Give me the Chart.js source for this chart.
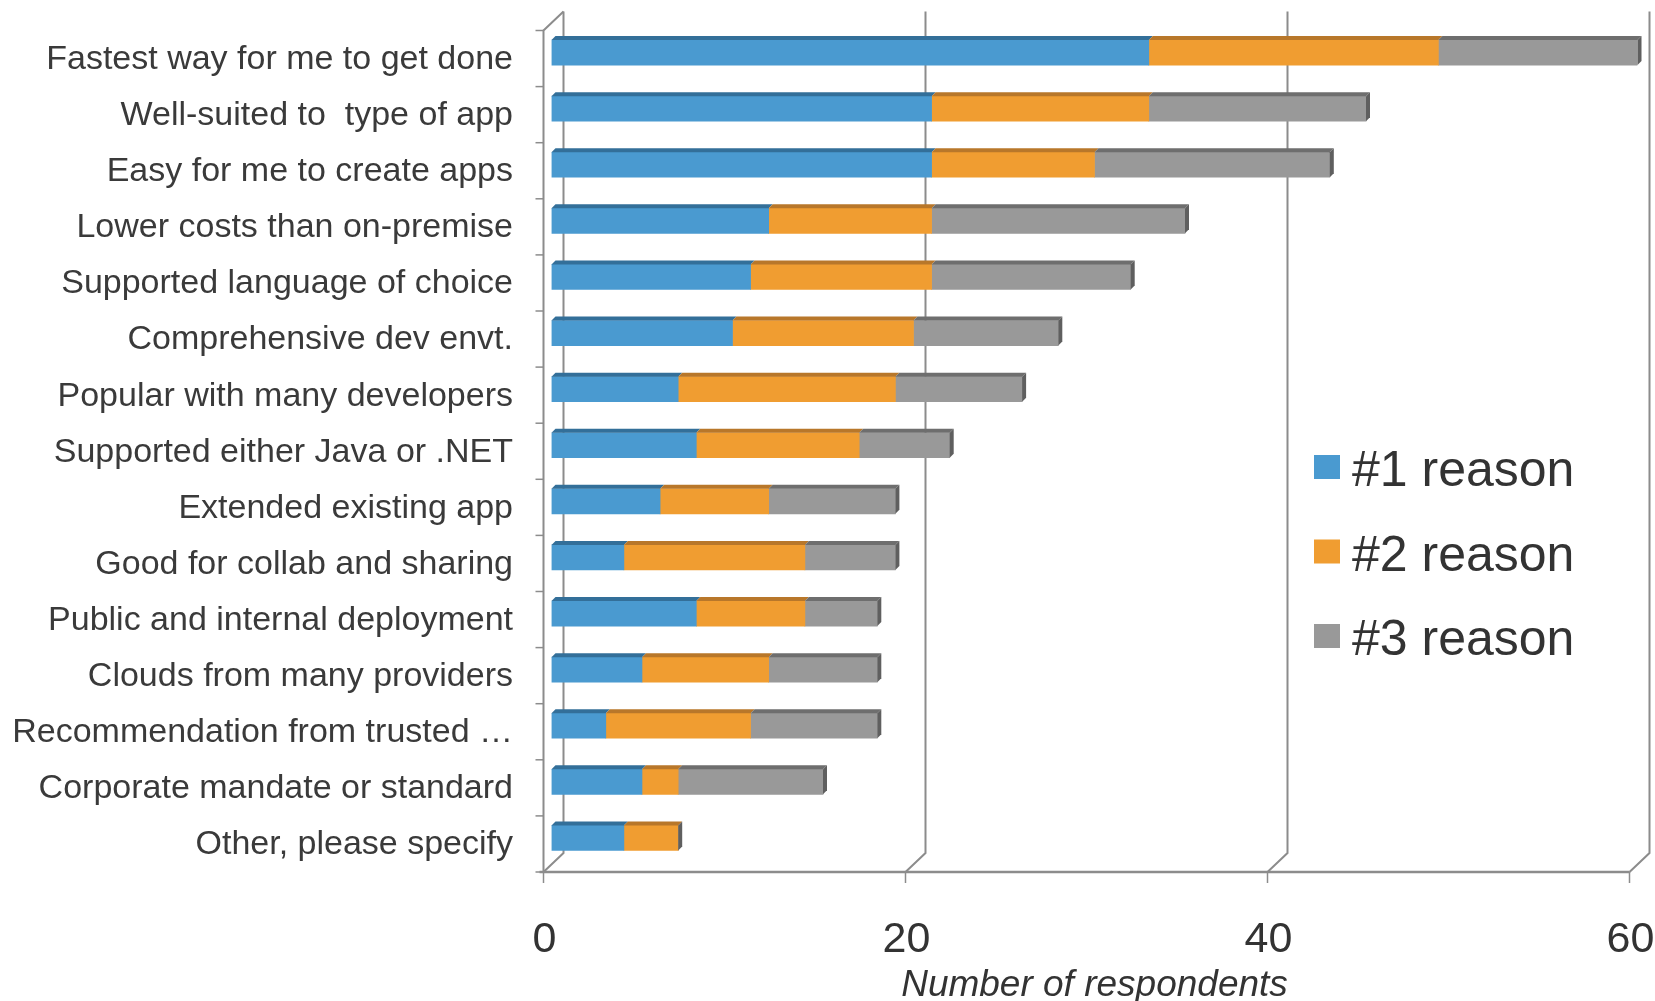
<!DOCTYPE html>
<html>
<head>
<meta charset="utf-8">
<title>Reasons for choosing a platform</title>
<script src="https://cdn.jsdelivr.net/npm/chart.js@4.4.1/dist/chart.umd.min.js"></script>
<style>
    html, body { margin: 0; padding: 0; background: #ffffff; }
    #wrap { position: relative; width: 1655px; height: 1001px; }
</style>
</head>
<body>
<div id="wrap"><canvas id="reasonsChart"></canvas></div>
<script>
(function() {
    'use strict';

    // Survey answers, top to bottom
    const categories = [
        'Fastest way for me to get done',
        'Well-suited to  type of app',
        'Easy for me to create apps',
        'Lower costs than on-premise',
        'Supported language of choice',
        'Comprehensive dev envt.',
        'Popular with many developers',
        'Supported either Java or .NET',
        'Extended existing app',
        'Good for collab and sharing',
        'Public and internal deployment',
        'Clouds from many providers',
        'Recommendation from trusted …',
        'Corporate mandate or standard',
        'Other, please specify'
    ];

    const reason1 = [33, 21, 21, 12, 11, 10, 7, 8, 6, 4, 8, 5, 3, 5, 4];
    const reason2 = [16, 12, 9, 9, 10, 10, 12, 9, 6, 10, 6, 7, 8, 2, 3];
    const reason3 = [11, 12, 13, 14, 11, 8, 7, 5, 7, 5, 4, 6, 7, 8, 0];

    const seriesNames = ['#1 reason', '#2 reason', '#3 reason'];
    const xTicks = [0, 20, 40, 60];

    const FACE = ['#4a9ad0', '#f09d31', '#999999'];
    const TOP = ['#336f99', '#b8772a', '#6e6e6e'];
    const CAP = '#5f5f5f';
    const FRAME = '#8c8c8c';
    const FONT = '"Liberation Sans", Arial, Helvetica, sans-serif';

    // depth offsets of the fake 3D box, relative to the plane of the bars
    const FRONT = { dx: -8, dy: 6 };
    const BACK = { dx: 12, dy: -13 };
    const BAR_DEPTH = 4;

    /**
     * Walls, floor and gridlines drawn before the bars
     */
    const frame3d = {
        id: 'frame3d',
        beforeDatasetsDraw(chart) {
            const ctx = chart.ctx;
            const x = chart.scales.x;
            const area = chart.chartArea;
            const backTop = area.top + BACK.dy;
            const backBottom = area.bottom + BACK.dy;
            const frontBottom = area.bottom + FRONT.dy;

            ctx.save();
            ctx.strokeStyle = FRAME;
            ctx.lineWidth = 2;

            // back wall gridlines and floor diagonals
            xTicks.forEach(v => {
                const px = x.getPixelForValue(v);
                ctx.beginPath();
                ctx.moveTo(px + BACK.dx, backTop);
                ctx.lineTo(px + BACK.dx, backBottom);
                ctx.lineTo(px + FRONT.dx, frontBottom);
                ctx.stroke();
            });

            // left wall, front edge
            const x0 = x.getPixelForValue(0);
            ctx.beginPath();
            ctx.moveTo(x0 + BACK.dx, backTop);
            ctx.lineTo(x0 + FRONT.dx, area.top + FRONT.dy);
            ctx.lineTo(x0 + FRONT.dx, frontBottom);
            ctx.stroke();

            // category tick marks on the left wall
            ctx.lineWidth = 1.5;
            for (let i = 0; i <= categories.length; i++) {
                const py = area.top + i * (area.bottom - area.top) / categories.length + FRONT.dy;
                ctx.beginPath();
                ctx.moveTo(x0 + FRONT.dx - 8, py);
                ctx.lineTo(x0 + FRONT.dx, py);
                ctx.stroke();
            }

            // front floor edge with tick marks
            ctx.lineWidth = 2.5;
            ctx.beginPath();
            ctx.moveTo(x0 + FRONT.dx - 4, frontBottom);
            ctx.lineTo(x.getPixelForValue(60) + FRONT.dx, frontBottom);
            ctx.stroke();
            ctx.lineWidth = 1.5;
            xTicks.forEach(v => {
                const px = x.getPixelForValue(v) + FRONT.dx;
                ctx.beginPath();
                ctx.moveTo(px, frontBottom);
                ctx.lineTo(px, frontBottom + 11);
                ctx.stroke();
            });
            ctx.restore();
        },

        // top faces and end caps of the bars
        afterDatasetsDraw(chart) {
            const ctx = chart.ctx;
            const d = BAR_DEPTH;
            ctx.save();
            categories.forEach((c, i) => {
                let lastBar = null;
                chart.data.datasets.forEach((ds, k) => {
                    const bar = chart.getDatasetMeta(k).data[i];
                    if (!bar || ds.data[i] === 0) return;
                    const left = Math.min(bar.x, bar.base);
                    const right = Math.max(bar.x, bar.base);
                    const top = bar.y - bar.height / 2;
                    ctx.fillStyle = TOP[k];
                    ctx.beginPath();
                    ctx.moveTo(left, top);
                    ctx.lineTo(left + d, top - d);
                    ctx.lineTo(right + d, top - d);
                    ctx.lineTo(right, top);
                    ctx.closePath();
                    ctx.fill();
                    lastBar = bar;
                });
                if (lastBar) {
                    const right = Math.max(lastBar.x, lastBar.base);
                    const top = lastBar.y - lastBar.height / 2;
                    const bottom = lastBar.y + lastBar.height / 2;
                    ctx.fillStyle = CAP;
                    ctx.beginPath();
                    ctx.moveTo(right, top);
                    ctx.lineTo(right + d, top - d);
                    ctx.lineTo(right + d, bottom - d);
                    ctx.lineTo(right, bottom);
                    ctx.closePath();
                    ctx.fill();
                }
            });
            ctx.restore();
        }
    };

    /**
     * Legend inside the plot, on the right
     */
    const innerLegend = {
        id: 'innerLegend',
        afterDraw(chart) {
            const ctx = chart.ctx;
            ctx.save();
            ctx.font = '50px ' + FONT;
            ctx.textBaseline = 'alphabetic';
            ctx.textAlign = 'left';
            chart.data.datasets.forEach((ds, k) => {
                const cy = 467 + k * 84.5;
                ctx.fillStyle = ds.backgroundColor;
                ctx.fillRect(1314, cy - 12, 26, 24);
                ctx.fillStyle = '#333333';
                ctx.fillText(ds.label, 1352, cy + 19);
            });
            ctx.restore();
        }
    };

    const ctx = document.getElementById('reasonsChart');
    new Chart(ctx.getContext('2d'), {
        type: 'bar',
        data: {
            labels: categories,
            datasets: [reason1, reason2, reason3].map((values, k) => ({
                label: seriesNames[k],
                data: values,
                backgroundColor: FACE[k],
                borderWidth: 0,
                barThickness: 25
            }))
        },
        options: {
            indexAxis: 'y',
            responsive: true,
            maintainAspectRatio: false,
            animation: false,
            layout: {
                padding: { top: 24.5, right: 17.5, left: 0, bottom: 0 }
            },
            plugins: {
                legend: { display: false },
                tooltip: { enabled: false }
            },
            scales: {
                x: {
                    stacked: true,
                    min: 0,
                    max: 60,
                    grid: { display: false, drawTicks: false },
                    border: { display: false },
                    afterFit: scale => {
                        scale.height = 1001 - 866;
                        scale.paddingLeft = 0;
                        scale.paddingRight = 0;
                    },
                    afterBuildTicks: scale => {
                        scale.ticks = xTicks.map(v => ({ value: v }));
                    },
                    ticks: {
                        padding: 48,
                        labelOffset: -7,
                        color: '#333333',
                        font: { family: FONT, size: 43 }
                    },
                    title: {
                        display: true,
                        text: 'Number of respondents',
                        color: '#333333',
                        padding: { top: 0, bottom: 0 },
                        font: { family: FONT, size: 37, style: 'italic', lineHeight: 0.8 }
                    }
                },
                y: {
                    stacked: true,
                    grid: { display: false, drawTicks: false },
                    border: { display: false },
                    afterFit: scale => {
                        scale.width = 551.5;
                        scale.paddingTop = 0;
                        scale.paddingBottom = 0;
                    },
                    ticks: {
                        autoSkip: false,
                        padding: 38.5,
                        labelOffset: 7,
                        color: '#3a3a3a',
                        font: { family: FONT, size: 34 }
                    }
                }
            }
        },
        plugins: [frame3d, innerLegend]
    });
})();
</script>
</body>
</html>
